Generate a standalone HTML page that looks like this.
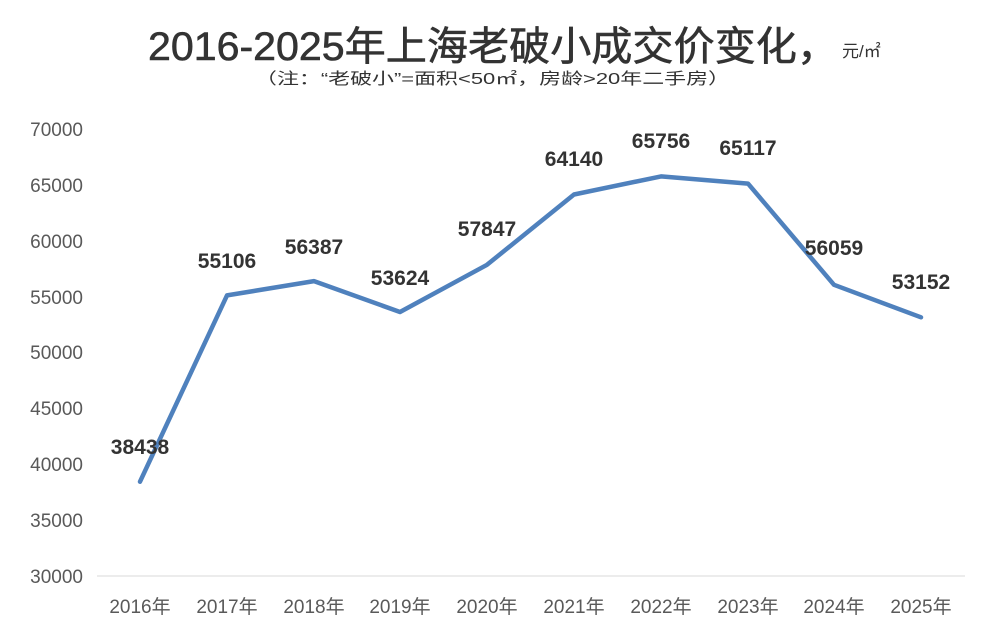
<!DOCTYPE html>
<html><head><meta charset="utf-8"><style>body{margin:0;background:#fff}</style></head><body>
<svg width="997" height="642" xmlns="http://www.w3.org/2000/svg" style="display:block">
<rect width="997" height="642" fill="#fff"/>
<text x="148" y="60" font-family="Liberation Sans Narrow, Liberation Sans, Noto Sans CJK SC, sans-serif" font-size="40" fill="#333" stroke="#333" stroke-width="0.6" textLength="690" lengthAdjust="spacingAndGlyphs">2016-2025年上海老破小成交价变化，</text>
<text x="842" y="57" font-family="Liberation Sans, Noto Sans CJK SC, sans-serif" font-size="17" fill="#333">元/㎡</text>
<text x="255" y="84" font-family="Liberation Sans, Noto Sans CJK SC, sans-serif" font-size="16" fill="#333" textLength="475" lengthAdjust="spacingAndGlyphs">（注：“老破小”=面积&lt;50㎡，房龄&gt;20年二手房）</text>
<g font-family="Liberation Sans, Noto Sans CJK SC, sans-serif" font-size="19" fill="#595959" text-anchor="end">
<text x="83" y="136">70000</text><text x="83" y="192">65000</text><text x="83" y="248">60000</text><text x="83" y="304">55000</text><text x="83" y="359">50000</text><text x="83" y="415">45000</text><text x="83" y="471">40000</text><text x="83" y="527">35000</text><text x="83" y="583">30000</text>
</g>
<line x1="97" y1="576" x2="965" y2="576" stroke="#d9d9d9" stroke-width="1"/>
<g font-family="Liberation Sans, Noto Sans CJK SC, sans-serif" font-size="19" fill="#595959" text-anchor="middle">
<text x="140" y="613">2016年</text><text x="227" y="613">2017年</text><text x="314" y="613">2018年</text><text x="400" y="613">2019年</text><text x="487" y="613">2020年</text><text x="574" y="613">2021年</text><text x="661" y="613">2022年</text><text x="748" y="613">2023年</text><text x="834" y="613">2024年</text><text x="921" y="613">2025年</text>
</g>
<polyline fill="none" stroke="#4f81bd" stroke-width="4.5" stroke-linejoin="round" stroke-linecap="round" points="140,481.7 227,295.4 314,281.1 400,312 487,264.8 574,194.5 661,176.4 748,183.6 834,284.8 921,317.3"/>
<g font-family="Liberation Sans, sans-serif" font-size="21" font-weight="bold" fill="#333" text-anchor="middle">
<text x="140" y="454">38438</text><text x="227" y="268">55106</text><text x="314" y="254">56387</text><text x="400" y="285">53624</text><text x="487" y="236">57847</text><text x="574" y="166">64140</text><text x="661" y="148">65756</text><text x="748" y="155">65117</text><text x="834" y="255">56059</text><text x="921" y="289">53152</text>
</g>
</svg>
</body></html>
